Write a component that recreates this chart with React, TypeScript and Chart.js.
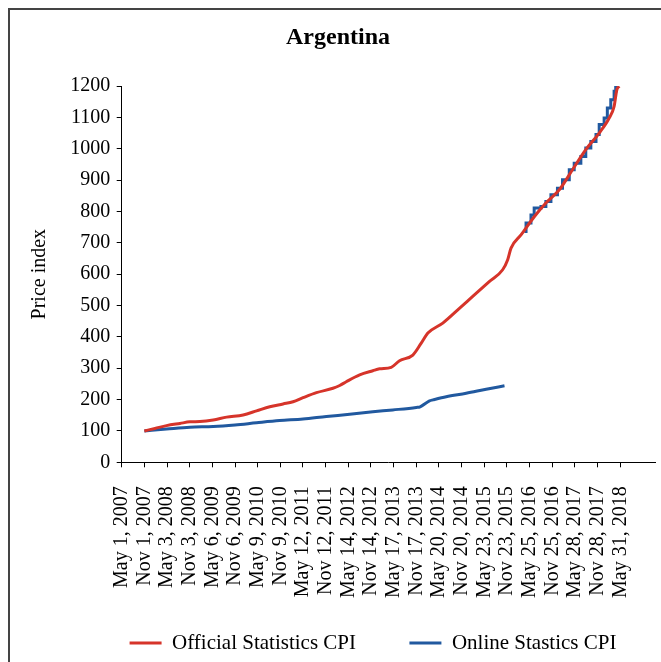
import { useEffect, useRef } from 'react';
import { Chart, registerables } from 'chart.js';

Chart.register(...registerables);

// Category tick labels (every 184 daily observations)
const tickLabels = [
  'May 1, 2007', 'Nov 1, 2007', 'May 3, 2008', 'Nov 3, 2008', 'May 6, 2009', 'Nov 6, 2009',
  'May 9, 2010', 'Nov 9, 2010', 'May 12, 2011', 'Nov 12, 2011', 'May 14, 2012', 'Nov 14, 2012',
  'May 17, 2013', 'Nov 17, 2013', 'May 20, 2014', 'Nov 20, 2014', 'May 23, 2015', 'Nov 23, 2015',
  'May 25, 2016', 'Nov 25, 2016', 'May 28, 2017', 'Nov 28, 2017', 'May 31, 2018',
];
const labelStepDays = 184;
const axisEndDay = 4330;

// Official Statistics CPI (day index, value)
const officialDay = [
  184, 270, 364, 473, 554, 635, 743, 852, 986, 1095, 1202, 1310, 1391, 1472, 1581, 1715, 1770, 1823,
  1932, 2039, 2094, 2188, 2256, 2364, 2432, 2486, 2607, 2742, 2850, 2984, 3093, 3134, 3161, 3242,
  3351, 3444, 3553, 3660, 3768, 3877, 3958, 3998, 4020, 4039,
];
const officialCPI = [
  100, 108, 117, 124, 129, 130, 135, 144, 151, 164, 177, 186, 193, 206, 222, 236, 245, 257,
  279, 292, 298, 303, 324, 342, 380, 412, 444, 491, 529, 576, 614, 646, 683, 725,
  784, 827, 869, 933, 997, 1050, 1098, 1135, 1188, 1199,
];

// Online Stastics CPI, first (daily, smooth) part
const onlineDay = [
  184, 364, 554, 743, 920, 1095, 1282, 1472, 1662, 1851, 2039, 2201, 2392, 2423, 2499, 2528,
  2635, 2797, 2959, 3108,
];
const onlineCPI = [
  100, 106, 112, 114, 119, 126, 133, 138, 146, 153, 161, 167, 175, 177, 196, 199,
  209, 220, 233, 244,
];

// Online Stastics CPI, second (monthly, stepped) part
const onlineStepDay = [
  3270, 3283, 3323, 3349, 3404, 3444, 3485, 3538, 3579, 3634, 3674, 3728, 3768, 3809, 3851,
  3877, 3917, 3943, 3971, 3998, 4011, 4039,
];
const onlineStepCPI = [
  736, 763, 789, 811, 816, 832, 853, 874, 901, 933, 954, 975, 1002, 1023, 1045,
  1077, 1098, 1130, 1156, 1183, 1201, 1201,
];

const RED = '#d6342a';
const BLUE = '#21599f';
const FONT = "'Liberation Serif', 'Times New Roman', serif";

const toPoints = (xs: number[], ys: number[]) => xs.map((x, i) => ({ x, y: ys[i] }));

const layoutTweaks = {
  id: 'layoutTweaks',
  afterLayout(chart: any) {
    const l = chart.legend;
    if (l) {
      l.left += 35;
      l.right += 35;
    }
    const xs = chart.scales.x;
    if (xs) xs.bottom = chart.height;
  },
};

export default function App() {
  const ref = useRef<HTMLCanvasElement | null>(null);

  useEffect(() => {
    if (!ref.current) return;
    const chart = new Chart(ref.current, {
      type: 'line',
      data: {
        datasets: [
          {
            label: 'Official Statistics CPI',
            data: toPoints(officialDay, officialCPI),
            borderColor: RED,
            backgroundColor: RED,
            borderWidth: 3,
            pointRadius: 0,
            cubicInterpolationMode: 'monotone',
            fill: false,
          },
          {
            label: 'Online Stastics CPI',
            data: toPoints(onlineDay, onlineCPI),
            borderColor: BLUE,
            backgroundColor: BLUE,
            borderWidth: 3,
            pointRadius: 0,
            cubicInterpolationMode: 'monotone',
            fill: false,
          },
          {
            label: 'Online Stastics CPI (monthly)',
            data: toPoints(onlineStepDay, onlineStepCPI),
            borderColor: BLUE,
            backgroundColor: BLUE,
            borderWidth: 3,
            pointRadius: 0,
            stepped: 'before',
            fill: false,
          },
        ],
      },
      options: {
        animation: false,
        responsive: false,
        devicePixelRatio: 1,
        layout: { padding: { left: 11, right: 35, top: 0, bottom: 26.5 } },
        plugins: {
          title: {
            display: true,
            text: 'Argentina',
            color: '#000',
            font: { family: FONT, size: 24, weight: 'bold' },
            padding: { top: 13.6, bottom: 33.6 },
          },
          legend: {
            position: 'bottom',
            labels: {
              color: '#000',
              font: { family: FONT, size: 21 },
              boxWidth: 32,
              boxHeight: 3,
              padding: 53.4,
              filter: (item: any) => item.datasetIndex !== 2,
              generateLabels: (c: any) =>
                (Chart.defaults.plugins.legend.labels.generateLabels as any)(c).map((it: any) => ({
                  ...it,
                  lineWidth: 0,
                  fillStyle: it.strokeStyle,
                })),
            },
          },
          tooltip: { enabled: false },
        },
        scales: {
          x: {
            type: 'linear',
            min: 0,
            max: axisEndDay,
            afterBuildTicks: (scale: any) => {
              scale.ticks = tickLabels.map((_, i) => ({ value: i * labelStepDays }));
            },
            afterFit: (scale: any) => {
              scale.height = 116.8;
            },
            ticks: {
              autoSkip: false,
              maxRotation: 90,
              minRotation: 90,
              padding: 19,
              color: '#000',
              font: { family: FONT, size: 20 },
              callback: (_v: any, i: number) => tickLabels[i],
            },
            grid: { display: true, drawOnChartArea: false, drawTicks: true, tickLength: 5, color: '#000' },
            border: { display: true, color: '#000', width: 1 },
          },
          y: {
            min: 0,
            max: 1200,
            afterFit: (scale: any) => {
              scale.width = 100.7;
            },
            ticks: {
              stepSize: 100,
              padding: 6.5,
              color: '#000',
              font: { family: FONT, size: 20 },
              callback: (v: any) => String(v),
            },
            title: {
              display: true,
              text: 'Price index',
              color: '#000',
              font: { family: FONT, size: 20 },
              padding: { top: 7, bottom: 0 },
            },
            grid: { display: true, drawOnChartArea: false, drawTicks: true, tickLength: 5, color: '#000' },
            border: { display: true, color: '#000', width: 1 },
          },
        },
      },
      plugins: [layoutTweaks],
    } as any);
    return () => chart.destroy();
  }, []);

  return (
    <div
      style={{
        position: 'fixed',
        left: 8,
        top: 8,
        width: 680,
        height: 680,
        border: '2px solid #444',
        overflow: 'hidden',
        background: '#fff',
      }}
    >
      <canvas ref={ref} width={680} height={680} style={{ display: 'block' }} />
    </div>
  );
}
